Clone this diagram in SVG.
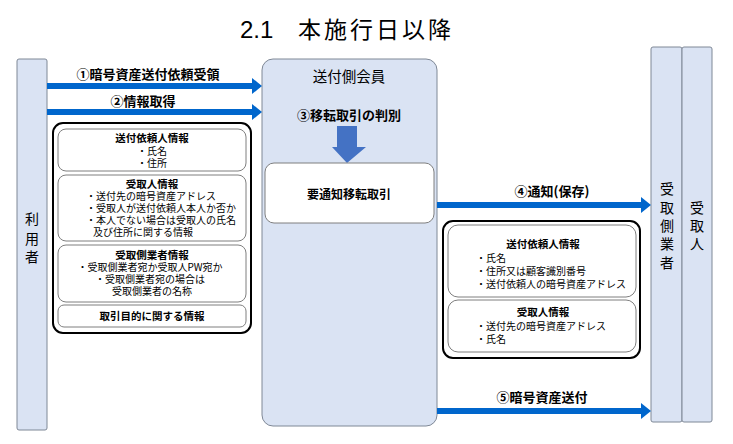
<svg xmlns="http://www.w3.org/2000/svg" width="733" height="444" viewBox="0 0 733 444">
<style>
.col{fill:#DAE3F3;stroke:#7F8896;stroke-width:1}
.jp{font-family:"Noto Sans CJK JP","Liberation Sans",sans-serif;fill:#000}
.lbl{font-size:13px;font-weight:bold;text-anchor:middle}
.vt{font-size:14px;text-anchor:middle}
.outer{fill:#fff;stroke:#000;stroke-width:2}
.inner{fill:#fff;stroke:#7F7F7F;stroke-width:1}
.h{font-size:10.5px;font-weight:bold;text-anchor:middle}
.t{font-size:10px}
.c{text-anchor:middle}
.arr{stroke:#0066CC;stroke-width:6;fill:none}
</style>
<defs>
<marker id="ah" markerUnits="userSpaceOnUse" markerWidth="10" markerHeight="16" refX="2" refY="8" orient="auto">
<path d="M0,0 L10,8 L0,16 z" fill="#0066CC"/>
</marker>
</defs>
<rect width="733" height="444" fill="#fff"/>
<text font-family="'Liberation Sans','Noto Sans CJK JP',sans-serif" font-size="24" fill="#000" y="38"><tspan x="240">2.1</tspan><tspan x="298" font-size="23" letter-spacing="3" font-family="'Noto Sans CJK JP',sans-serif">本施行日以降</tspan></text>

<g id="user">
<rect class="col" x="17" y="59" width="30" height="371" rx="2"/>
<text class="jp vt" x="32" y="224">利</text>
<text class="jp vt" x="32" y="243.5">用</text>
<text class="jp vt" x="32" y="262">者</text>
</g>

<g id="sender">
<rect class="col" x="262" y="59" width="175" height="367" rx="11"/>
<text class="jp" x="349" y="82" font-size="14.5" text-anchor="middle">送付側会員</text>
<text class="jp lbl" x="349" y="120">③移転取引の判別</text>
<path d="M337,126 H357 V147 H366 L347,163 L332,147 H337 Z" fill="#4472C4"/>
</g>

<g id="notify-tx">
<rect x="265" y="163" width="169" height="60" rx="9" fill="#fff" stroke="#7F7F7F"/>
<text class="jp" x="349" y="199" font-size="12" font-weight="bold" text-anchor="middle">要通知移転取引</text>
</g>

<g id="receiver-vasp">
<rect class="col" x="651" y="47" width="31" height="375" rx="2"/>
<text class="jp vt" x="667" y="194">受</text>
<text class="jp vt" x="667" y="212.5">取</text>
<text class="jp vt" x="667" y="231">側</text>
<text class="jp vt" x="667" y="249">業</text>
<text class="jp vt" x="667" y="267.5">者</text>
</g>

<g id="receiver">
<rect class="col" x="682" y="47" width="30" height="375" rx="2"/>
<text class="jp vt" x="697" y="212.5">受</text>
<text class="jp vt" x="697" y="231">取</text>
<text class="jp vt" x="697" y="249">人</text>
</g>

<g id="user-info">
<rect class="outer" x="53" y="123" width="198" height="210" rx="10"/>
<rect class="inner" x="58" y="129" width="188" height="42" rx="8"/>
<text class="jp h" x="152" y="142">送付依頼人情報</text>
<text class="jp t c" x="152" y="155">・氏名</text>
<text class="jp t c" x="152" y="167">・住所</text>
<rect class="inner" x="58" y="175" width="188" height="66" rx="8"/>
<text class="jp h" x="152" y="188">受取人情報</text>
<text class="jp t" x="86" y="200">・送付先の暗号資産アドレス</text>
<text class="jp t" x="86" y="212">・受取人が送付依頼人本人か否か</text>
<text class="jp t" x="86" y="224">・本人でない場合は受取人の氏名</text>
<text class="jp t" x="93" y="236">及び住所に関する情報</text>
<rect class="inner" x="58" y="245" width="188" height="57" rx="8"/>
<text class="jp h" x="152" y="259">受取側業者情報</text>
<text class="jp t c" x="150" y="271">・受取側業者宛か受取人PW宛か</text>
<text class="jp t c" x="150" y="283">・受取側業者宛の場合は</text>
<text class="jp t c" x="152" y="295">受取側業者の名称</text>
<rect class="inner" x="58" y="305" width="188" height="22" rx="6"/>
<text class="jp h" x="152" y="320">取引目的に関する情報</text>
</g>

<g id="notify-info">
<rect class="outer" x="443" y="221" width="197" height="137" rx="10"/>
<rect class="inner" x="448" y="225" width="188" height="72" rx="10"/>
<text class="jp h" x="543" y="248">送付依頼人情報</text>
<text class="jp t" x="476" y="262">・氏名</text>
<text class="jp t" x="476" y="275">・住所又は顧客識別番号</text>
<text class="jp t" x="476" y="288">・送付依頼人の暗号資産アドレス</text>
<rect class="inner" x="448" y="300" width="188" height="52" rx="10"/>
<text class="jp h" x="543" y="316">受取人情報</text>
<text class="jp t" x="476" y="330">・送付先の暗号資産アドレス</text>
<text class="jp t" x="476" y="343">・氏名</text>
</g>

<g id="connectors">
<line class="arr" x1="47" y1="86" x2="254" y2="86" marker-end="url(#ah)"/>
<text class="jp lbl" x="148" y="79">①暗号資産送付依頼受領</text>
<line class="arr" x1="47" y1="112" x2="254" y2="112" marker-end="url(#ah)"/>
<text class="jp lbl" x="143" y="106">②情報取得</text>
<line class="arr" x1="437" y1="205" x2="643" y2="205" marker-end="url(#ah)"/>
<text class="jp lbl" x="552" y="196">④通知(保存)</text>
<line class="arr" x1="437" y1="411" x2="643" y2="411" marker-end="url(#ah)"/>
<text class="jp lbl" x="542" y="402">⑤暗号資産送付</text>
</g>
</svg>
